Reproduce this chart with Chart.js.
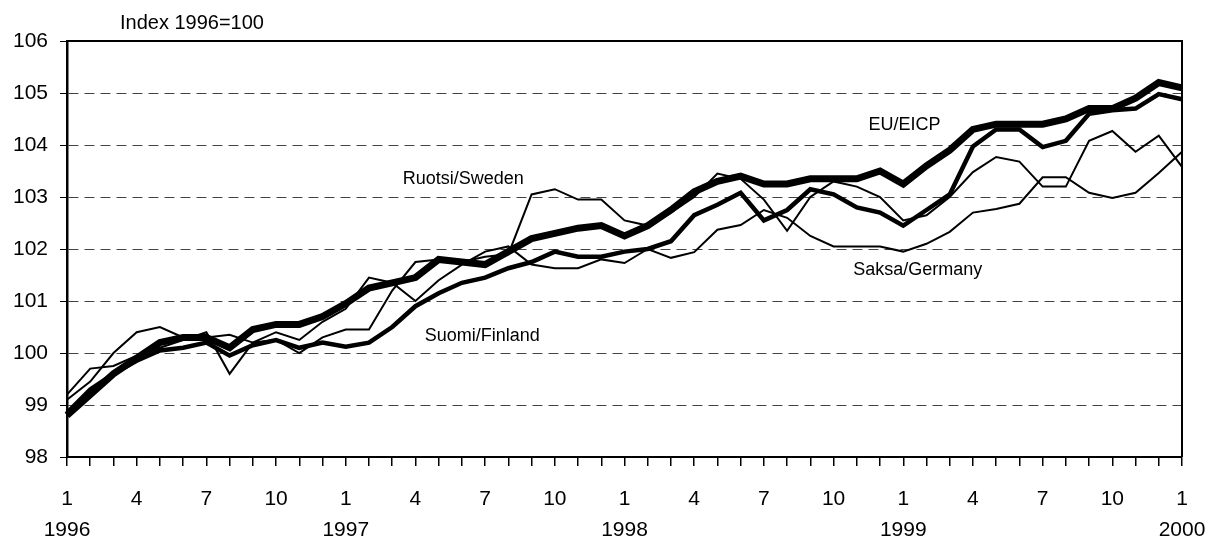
<!DOCTYPE html>
<html>
<head>
<meta charset="utf-8">
<script src="https://cdn.jsdelivr.net/npm/chart.js@4.4.1/dist/chart.umd.min.js"></script>
<style>
  html, body { margin: 0; padding: 0; background: #fff; }
  #wrap { width: 1205px; height: 540px; }
</style>
</head>
<body>
<div id="wrap"><canvas id="chart"></canvas></div>
<script>
// tick labels
var years = ['1996', '1997', '1998', '1999', '2000'];
var monthTicks = ['1', '', '', '4', '', '', '7', '', '', '10', '', ''];

// monthly index values, Jan 1996 .. Jan 2000 (1996=100)
var eu = [98.8, 99.2, 99.6, 99.9, 100.2, 100.3, 100.3, 100.1, 100.45, 100.55, 100.55, 100.7,
  100.95, 101.25, 101.35, 101.45, 101.8, 101.75, 101.7, 101.95, 102.2, 102.3, 102.4, 102.45,
  102.25, 102.45, 102.75, 103.1, 103.3, 103.4, 103.25, 103.25, 103.35, 103.35, 103.35, 103.5,
  103.25, 103.6, 103.9, 104.3, 104.4, 104.4, 104.4, 104.5, 104.7, 104.7, 104.9, 105.2,
  105.1];
var finland = [98.85, 99.3, 99.6, 99.85, 100.05, 100.1, 100.2, 99.95, 100.15, 100.25, 100.1, 100.2,
  100.12, 100.2, 100.5, 100.9, 101.15, 101.35, 101.45, 101.63, 101.75, 101.95, 101.85, 101.85,
  101.95, 102.0, 102.15, 102.65, 102.85, 103.08, 102.55, 102.75, 103.15, 103.05, 102.8, 102.7,
  102.45, 102.75, 103.05, 103.97, 104.3, 104.3, 103.96, 104.08, 104.6, 104.67, 104.7, 104.98,
  104.88];
var sweden = [99.1, 99.45, 100.0, 100.4, 100.5, 100.3, 100.3, 100.35, 100.2, 100.25, 100.0, 100.3,
  100.45, 100.45, 101.2, 101.75, 101.8, 101.75, 101.85, 101.9, 103.05, 103.15, 102.95, 102.95,
  102.55, 102.45, 102.7, 103.0, 103.45, 103.35, 102.95, 102.35, 103.0, 103.3, 103.2, 103.0,
  102.55, 102.65, 103.0, 103.48, 103.77, 103.68, 103.2, 103.2, 104.08, 104.27, 103.87, 104.18,
  103.58];
var germany = [99.2, 99.7, 99.75, 99.95, 100.1, 100.25, 100.4, 99.6, 100.2, 100.4, 100.25, 100.6,
  100.85, 101.45, 101.35, 101.0, 101.4, 101.7, 101.95, 102.05, 101.7, 101.63, 101.63, 101.8,
  101.73, 102.0, 101.83, 101.94, 102.37, 102.46, 102.75, 102.6, 102.25, 102.05, 102.05, 102.05,
  101.95, 102.1, 102.33, 102.7, 102.77, 102.87, 103.38, 103.38, 103.08, 102.98, 103.08, 103.46,
  103.87];

var labels = [];
for (var y = 0; y < years.length - 1; y++) {
  for (var m = 0; m < 12; m++) {
    labels.push(m === 0 ? [monthTicks[0], years[y]] : monthTicks[m]);
  }
}
labels.push([monthTicks[0], years[years.length - 1]]);

var FONT = "'Liberation Sans', Arial, sans-serif";

// series names written inside the plot: [text, month index, value, font size]
var notes = [
  ['Index 1996=100', 2.28, 106.33, 20],
  ['Ruotsi/Sweden', 14.45, 103.35, 18],
  ['Suomi/Finland', 15.4, 100.33, 18],
  ['EU/EICP', 34.5, 104.38, 18],
  ['Saksa/Germany', 33.85, 101.6, 18]
];

var frame = {
  id: 'frame',
  afterDatasetsDraw: function(chart) {
    var a = chart.chartArea, ctx = chart.ctx;
    ctx.save();
    ctx.strokeStyle = '#000';
    ctx.lineWidth = 2;
    ctx.beginPath();
    ctx.moveTo(a.left, a.top);
    ctx.lineTo(a.right, a.top);
    ctx.lineTo(a.right, a.bottom);
    ctx.stroke();
    ctx.fillStyle = '#000';
    ctx.textBaseline = 'middle';
    ctx.textAlign = 'left';
    var xs = chart.scales.x, ys = chart.scales.y;
    notes.forEach(function(n) {
      ctx.font = n[3] + 'px ' + FONT;
      ctx.fillText(n[0], xs.getPixelForValue(n[1]), ys.getPixelForValue(n[2]));
    });
    ctx.restore();
  }
};

new Chart(document.getElementById('chart'), {
  type: 'line',
  data: {
    labels: labels,
    datasets: [
      { label: 'EU/EICP', data: eu, borderColor: '#000', borderWidth: 7 },
      { label: 'Suomi/Finland', data: finland, borderColor: '#000', borderWidth: 4.5 },
      { label: 'Ruotsi/Sweden', data: sweden, borderColor: '#000', borderWidth: 2 },
      { label: 'Saksa/Germany', data: germany, borderColor: '#000', borderWidth: 2 }
    ]
  },
  options: {
    responsive: true,
    maintainAspectRatio: false,
    animation: false,
    layout: { padding: { top: 41, right: 23, left: 0, bottom: 0 } },
    elements: { point: { radius: 0 }, line: { tension: 0, borderJoinStyle: 'miter' } },
    plugins: { legend: { display: false }, tooltip: { enabled: false } },
    scales: {
      x: {
        type: 'category',
        offset: false,
        grid: { drawOnChartArea: false, drawTicks: true, tickLength: 9, color: '#000', lineWidth: 1.5 },
        border: { display: true, color: '#000', width: 2 },
        ticks: {
          autoSkip: false, maxRotation: 0, color: '#000', padding: 17,
          font: { family: FONT, size: 21, lineHeight: 1.5 }
        },
        afterFit: function(s) { s.height = 83; s.paddingLeft = 0; s.paddingRight = 0; }
      },
      y: {
        min: 98, max: 106,
        grid: { color: '#444', lineWidth: 1, tickLength: 7, tickColor: '#000' },
        border: { display: true, color: '#000', width: 2.5, dash: [10, 6] },
        ticks: { stepSize: 1, color: '#000', padding: 12, font: { family: FONT, size: 21 } },
        afterFit: function(s) { s.width = 67; }
      }
    }
  },
  plugins: [frame]
});
</script>
</body>
</html>
